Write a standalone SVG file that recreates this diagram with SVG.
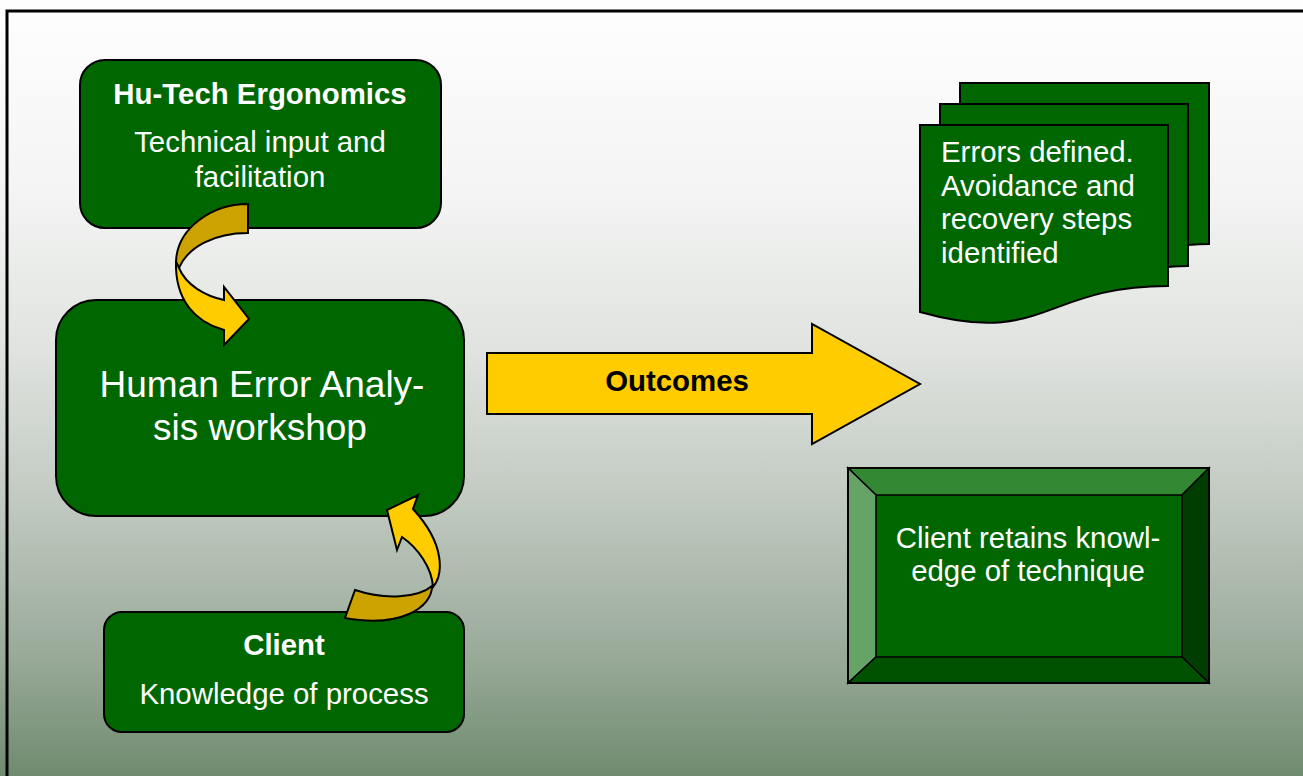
<svg xmlns="http://www.w3.org/2000/svg" width="1303" height="776" viewBox="0 0 1303 776">
  <defs>
    <linearGradient id="bg" x1="0" y1="0" x2="0" y2="776" gradientUnits="userSpaceOnUse">
      <stop offset="0" stop-color="#fefefe"/>
      <stop offset="0.25" stop-color="#f3f4f3"/>
      <stop offset="0.45" stop-color="#e0e3e0"/>
      <stop offset="0.65" stop-color="#c0c9c0"/>
      <stop offset="0.85" stop-color="#98a998"/>
      <stop offset="1" stop-color="#6f8b6f"/>
    </linearGradient>
  </defs>
  <style>
    .box { fill: #006600; stroke: #000; stroke-width: 2; }
    .t { font-family: "Liberation Sans", Arial, sans-serif; fill: #fff; font-size: 29.4px; }
    .b { font-weight: bold; }
    .big { font-size: 37px; }
    .yl { fill: #ffcc00; stroke: #000; stroke-width: 2; stroke-linejoin: miter; }
    .dk { fill: #cca300; stroke: #000; stroke-width: 2; }
    .bev { stroke: #000; stroke-width: 1.5; stroke-linejoin: miter; }
  </style>
  <rect x="0" y="0" width="1303" height="776" fill="url(#bg)"/>
  <rect x="7" y="11" width="1310" height="790" fill="none" stroke="#000" stroke-width="3"/>

  <g id="hutech">
    <rect class="box" x="80" y="60" width="361" height="168" rx="25" ry="25"/>
    <text class="t b" x="260" y="104" text-anchor="middle">Hu-Tech Ergonomics</text>
    <text class="t" x="260" y="152" text-anchor="middle">Technical input and</text>
    <text class="t" x="260" y="187" text-anchor="middle">facilitation</text>
  </g>

  <g id="workshop">
    <rect class="box" x="56" y="300" width="408" height="216" rx="40" ry="40"/>
    <text class="t big" x="262" y="397" text-anchor="middle">Human Error Analy-</text>
    <text class="t big" x="260" y="440" text-anchor="middle">sis workshop</text>
  </g>

  <g id="client">
    <rect class="box" x="104" y="612" width="360" height="120" rx="18" ry="18"/>
    <text class="t b" x="284" y="655" text-anchor="middle">Client</text>
    <text class="t" x="284" y="704" text-anchor="middle">Knowledge of process</text>
  </g>

  <g id="documents">
    <path class="box" d="M960,83 L1209,83 L1209,244 C1200,244 1188,245 1188,245 L1188,104 L960,104 Z"/>
    <path class="box" d="M940,104 L1188,104 L1188,266 C1180,266 1168,267 1168,267 L1168,125 L940,125 Z"/>
    <path class="box" d="M920,125 L1168,125 L1168,286 C1044,286 1044,347 920,312 Z"/>
    <text class="t" x="941" y="162">Errors defined.</text>
    <text class="t" x="941" y="196">Avoidance and</text>
    <text class="t" x="941" y="229">recovery steps</text>
    <text class="t" x="941" y="263">identified</text>
  </g>

  <g id="retains">
    <rect x="848" y="468" width="361" height="215" fill="#006600"/>
    <polygon class="bev" points="848,468 1209,468 1182,495 876,495" fill="#338833"/>
    <polygon class="bev" points="848,468 876,495 876,657 848,683" fill="#66a366"/>
    <polygon class="bev" points="1209,468 1209,683 1182,657 1182,495" fill="#003d00"/>
    <polygon class="bev" points="848,683 876,657 1182,657 1209,683" fill="#005200"/>
    <rect x="848" y="468" width="361" height="215" fill="none" stroke="#000" stroke-width="2"/>
    <text class="t" x="1028" y="548" text-anchor="middle">Client retains knowl-</text>
    <text class="t" x="1028" y="581" text-anchor="middle">edge of technique</text>
  </g>

  <g id="connectors">
    <g id="outcomes">
      <path class="yl" d="M487,353 L812,353 L812,324 L920,384 L812,444 L812,414 L487,414 Z"/>
      <text class="t b" x="677" y="391" text-anchor="middle" style="fill:#000">Outcomes</text>
    </g>
    <g id="arrow-hutech-workshop">
      <path class="dk" d="M248,204 C212,204 177,228 176,262 L179,268 C188,247 214,233 248,233 Z"/>
      <path class="yl" d="M176,262 C175,300 195,322 224,330 L224,345 L249,319 L224,287 L224,300 C205,296 186,285 179,268 Z"/>
    </g>
    <g id="arrow-client-workshop">
      <path class="dk" d="M355,590 C385,600 418,598 432,586 C432,608 400,628 345,618 Z"/>
      <path class="yl" d="M402,537 C418,548 432,568 433,587 C443,575 446,545 413,509 L418,495 L387,510 L397,550 Z"/>
    </g>
  </g>
</svg>
